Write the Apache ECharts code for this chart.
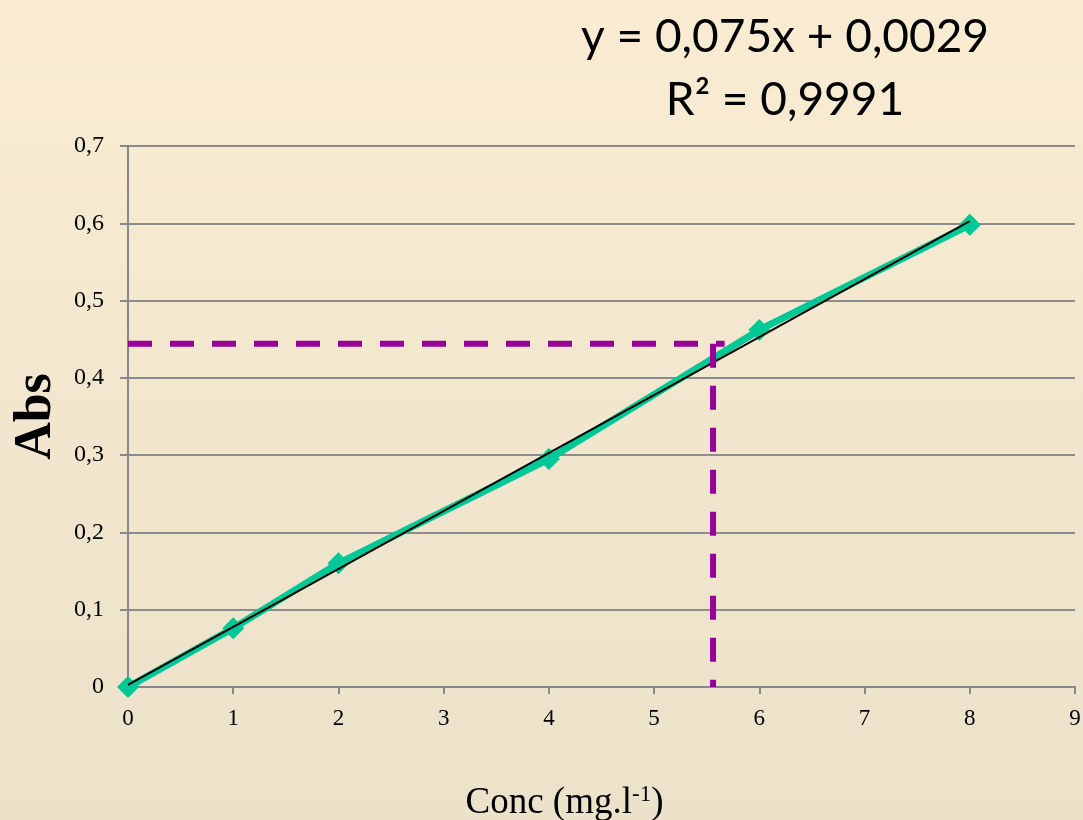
<!DOCTYPE html>
<html><head><meta charset="utf-8">
<script src="https://cdn.jsdelivr.net/npm/echarts@6/dist/echarts.min.js"></script>
<style>html,body{margin:0;padding:0;}#c{width:1083px;height:820px;}</style>
</head><body><div id="c"></div>
<script>
const concX = [0, 1, 2, 4, 6, 8];
const absY = [0, 0.076, 0.16, 0.295, 0.462, 0.598];
const trendX = [0, 8];
const trendY = [0.0029, 0.6029];
const sampleAbs = 0.444;
const sampleConc = 5.56;
const hLineEndX = 5.67;
const eqLine1 = 'y = 0,075x + 0,0029';
const eqLine2 = 'R² = 0,9991';

const chart = echarts.init(document.getElementById('c'));
const serif = '"Liberation Serif", "DejaVu Serif", serif';
const eqFont = {fontFamily:'Lato, "Open Sans", sans-serif', fontSize:46, fontWeight:'normal', color:'#000'};
chart.setOption({
  backgroundColor: {type:'linear', x:0, y:0, x2:0, y2:1, colorStops:[{offset:0,color:'#F9ECD3'},{offset:1,color:'#EBE2C9'}]},
  animation: false,
  title: [
    {text: eqLine1, left: 780, top: 9, textAlign: 'center', textStyle: eqFont},
    {text: eqLine2, left: 780, top: 72, textAlign: 'center', textStyle: eqFont}
  ],
  grid: {left:128, right:8, top:146, bottom:133, containLabel:false, outerBoundsMode:'none'},
  xAxis: {
    type:'value', min:0, max:9, interval:1,
    splitLine:{show:false},
    axisLine:{lineStyle:{color:'#888', width:2}},
    axisTick:{show:true, length:7, lineStyle:{color:'#888', width:2}},
    axisLabel:{fontFamily:serif, fontSize:23, color:'#000', margin:20},
    name:'{a|Conc (mg.l}{b|-1}{a|)}', nameLocation:'middle', nameGap:96,
    nameTextStyle:{padding:[0,74,0,0], rich:{a:{fontFamily:serif, fontSize:37, color:'#000'}, b:{fontFamily:serif, fontSize:23, color:'#000', verticalAlign:'top', padding:[0,0,18,0]}}}
  },
  yAxis: {
    type:'value', min:0, max:0.7, interval:0.1,
    splitLine:{show:true, lineStyle:{color:'#8c8c8c', width:2}},
    axisLine:{show:true, lineStyle:{color:'#888', width:2}},
    axisTick:{show:true, length:8, lineStyle:{color:'#888', width:2}},
    axisLabel:{fontFamily:serif, fontSize:24, color:'#000', margin:24, formatter: v => String(+v.toFixed(1)).replace('.', ',')},
    name:'Abs', nameLocation:'middle', nameRotate:90, nameGap:65,
    nameTextStyle:{fontFamily:serif, fontSize:52, fontWeight:'bold', color:'#000'}
  },
  series: [
    {type:'line', data: concX.map((x,i)=>[x, absY[i]]), symbol:'diamond', symbolSize:22,
     lineStyle:{color:'#00C896', width:7}, itemStyle:{color:'#00C896'}, z:2},
    {type:'line', data: trendX.map((x,i)=>[x, trendY[i]]), symbol:'none',
     lineStyle:{color:'#000', width:2}, z:3},
    {type:'line', data: [[0, sampleAbs],[hLineEndX, sampleAbs]], symbol:'none',
     lineStyle:{color:'#990099', width:6, type:[24,18]}, z:4},
    {type:'line', data: [[sampleConc, sampleAbs],[sampleConc, 0]], symbol:'none', clip:false,
     lineStyle:{color:'#990099', width:6, type:[24,18]}, z:4}
  ]
});
</script></body></html>
